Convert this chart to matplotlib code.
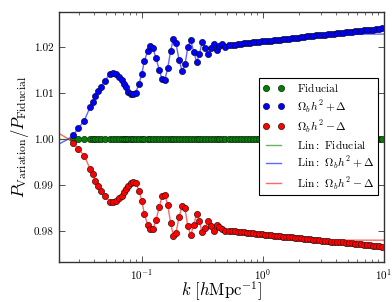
import numpy as np
import matplotlib
matplotlib.use("Agg")
import matplotlib.pyplot as plt
from matplotlib.ticker import FixedLocator, FormatStrFormatter, LogLocator

plt.rcParams['font.family'] = ['cmr10', 'DejaVu Serif']
plt.rcParams['mathtext.fontset'] = 'cm'
plt.rcParams['axes.formatter.use_mathtext'] = True

# k-Werte der Punkte (h/Mpc)
k = [0.0270, 0.0298, 0.0333, 0.0372, 0.0392, 0.0411, 0.0436, 0.0458, 0.0494, 0.0544,
     0.0580, 0.0610, 0.0642, 0.0679, 0.0710, 0.0738, 0.0771, 0.0811, 0.0847, 0.0887,
     0.0944, 0.0995, 0.1045, 0.1115, 0.1172, 0.1233, 0.1306, 0.1390, 0.1463, 0.1540,
     0.1630, 0.1725, 0.1815, 0.1910, 0.2023, 0.2143, 0.2266, 0.2387, 0.2524, 0.2673,
     0.2830, 0.2977, 0.3133, 0.3320, 0.3510, 0.3700, 0.3920, 0.4140, 0.4355, 0.4610,
     0.4880,
     0.52, 0.55, 0.583, 0.617, 0.654, 0.692, 0.733, 0.777, 0.822, 0.871,
     0.922, 0.977, 1.035, 1.096, 1.16, 1.23, 1.30, 1.38, 1.46, 1.55,
     1.64, 1.73, 1.84, 1.94, 2.06, 2.18, 2.31, 2.44, 2.59, 2.74,
     2.90, 3.07, 3.26, 3.45, 3.65, 3.87, 4.10, 4.34, 4.59, 4.86,
     5.15, 5.45, 5.78, 6.12, 6.48, 6.86, 7.26, 7.69, 8.15, 8.63,
     9.14, 9.68]

plus = [1.0009, 1.0023, 1.0040, 1.0069, 1.0081, 1.0094, 1.0104, 1.0114, 1.0127, 1.0141,
        1.0143, 1.0141, 1.0134, 1.0128, 1.0120, 1.0112, 1.0103, 1.0098, 1.0097, 1.0101,
        1.0120, 1.0141, 1.0169, 1.0192, 1.0202, 1.0197, 1.0175, 1.0150, 1.0130, 1.0128,
        1.0154, 1.0192, 1.0217, 1.0208, 1.0172, 1.0148, 1.0162, 1.0199, 1.0215, 1.0190,
        1.0167, 1.0184, 1.0210, 1.0198, 1.0184, 1.0197, 1.0206, 1.0193, 1.0202, 1.0207,
        1.0201,
        1.0204, 1.0205, 1.0205, 1.0206, 1.0207, 1.0208, 1.0208, 1.0209, 1.0210, 1.0210,
        1.0211, 1.0212, 1.0213, 1.0213, 1.0214, 1.0215, 1.0215, 1.0216, 1.0217, 1.0218,
        1.0218, 1.0219, 1.0220, 1.0220, 1.0221, 1.0222, 1.0223, 1.0223, 1.0224, 1.0225,
        1.0225, 1.0226, 1.0227, 1.0228, 1.0228, 1.0229, 1.0230, 1.0230, 1.0231, 1.0232,
        1.0233, 1.0233, 1.0234, 1.0235, 1.0235, 1.0236, 1.0237, 1.0238, 1.0238, 1.0239,
        1.0240, 1.0241]

minus = [0.9992, 0.9978, 0.9964, 0.9935, 0.9923, 0.9909, 0.9898, 0.9888, 0.9876, 0.9864,
         0.9862, 0.9866, 0.9871, 0.9877, 0.9885, 0.9892, 0.9898, 0.9905, 0.9906, 0.9904,
         0.9888, 0.9866, 0.9837, 0.9813, 0.9804, 0.9805, 0.9824, 0.9853, 0.9875, 0.9878,
         0.9857, 0.9817, 0.9790, 0.9796, 0.9830, 0.9855, 0.9849, 0.9811, 0.9791, 0.9813,
         0.9837, 0.9822, 0.9797, 0.9806, 0.9822, 0.9811, 0.9799, 0.9812, 0.9808, 0.9805,
         0.9801,
         0.9800, 0.9799, 0.9799, 0.9798, 0.9797, 0.9797, 0.9796, 0.9795, 0.9795, 0.9794,
         0.9793, 0.9793, 0.9792, 0.9791, 0.9791, 0.9790, 0.9789, 0.9789, 0.9788, 0.9787,
         0.9787, 0.9786, 0.9785, 0.9785, 0.9784, 0.9783, 0.9783, 0.9782, 0.9781, 0.9781,
         0.9780, 0.9779, 0.9779, 0.9778, 0.9777, 0.9777, 0.9776, 0.9775, 0.9775, 0.9774,
         0.9773, 0.9773, 0.9772, 0.9771, 0.9771, 0.9770, 0.9769, 0.9769, 0.9768, 0.9767,
         0.9767, 0.9766]

# lineare Theorie: Anfang und Ende weichen von den Punkten ab
lin_k_low = [0.0206, 0.0246]
lin_plus_low = [0.9989, 1.0000]
lin_minus_low = [1.0012, 1.0000]
lin_k_high = [3.0, 5.0, 7.0, 10.0]
lin_plus_high = [1.0225, 1.0227, 1.0228, 1.0228]
lin_minus_high = [0.9780, 0.9780, 0.9780, 0.9780]

k = np.array(k)
plus = np.array(plus)
minus = np.array(minus)
fid = np.ones_like(k)

mid = (k > lin_k_low[-1]) & (k < lin_k_high[0])
lin_k = np.concatenate([lin_k_low, k[mid], lin_k_high])
lin_plus = np.concatenate([lin_plus_low, plus[mid], lin_plus_high])
lin_minus = np.concatenate([lin_minus_low, minus[mid], lin_minus_high])

fig = plt.figure(figsize=(3.92, 3.02), dpi=100)
ax = fig.add_axes([0.1505, 0.1325, 0.8291, 0.8278])

mk = dict(marker='o', ls='none', ms=4.5, mec='k', mew=0.4)
ax.plot(k, fid, color='#008000', label=r'$\mathrm{Fiducial}$', **mk)
ax.plot(k, plus, color='#0000ff', label=r'$\Omega_b h^2+\Delta$', **mk)
ax.plot(k, minus, color='#ff0000', label=r'$\Omega_b h^2-\Delta$', **mk)
ax.plot([lin_k_low[0], 10.0], [1.0, 1.0], color='#008000', lw=1, alpha=0.6,
        label=r'$\mathrm{Lin{:}\ Fiducial}$')
ax.plot(lin_k, lin_plus, color='#0000ff', lw=1, alpha=0.6,
        label=r'$\mathrm{Lin{:}}\ \Omega_b h^2+\Delta$')
ax.plot(lin_k, lin_minus, color='#ff0000', lw=1, alpha=0.6,
        label=r'$\mathrm{Lin{:}}\ \Omega_b h^2-\Delta$')

ax.set_xscale('log')
ax.set_xlim(0.0206, 10)
ax.set_ylim(0.97326, 1.02761)
ax.yaxis.set_major_locator(FixedLocator([0.98, 0.99, 1.00, 1.01, 1.02]))
ax.yaxis.set_major_formatter(FormatStrFormatter('%.2f'))
ax.xaxis.set_major_locator(LogLocator(base=10))
ax.xaxis.set_minor_locator(LogLocator(base=10, subs=np.arange(2, 10)))

ax.tick_params(which='both', direction='in', top=True, right=True, labelsize=8,
               color='#333333')
ax.tick_params(which='major', length=4, width=0.6, pad=4)
ax.tick_params(which='minor', length=2, width=0.5)
for s in ax.spines.values():
    s.set_color('#333333')
    s.set_linewidth(1.0)

ax.set_xlabel(r'$k\ [h\mathrm{Mpc}^{-1}]$', fontsize=12, labelpad=-2)
ax.set_ylabel(r'$P_{\mathrm{Variation}}/P_{\mathrm{Fiducial}}$', fontsize=12, labelpad=2)

leg = ax.legend(loc='center right', bbox_to_anchor=(0.982, 0.502), numpoints=2,
                fontsize=8.3, fancybox=False, framealpha=1, edgecolor='k',
                handlelength=1.9, handletextpad=1.1, labelspacing=0.3,
                borderpad=0.3, borderaxespad=0)
leg.get_frame().set_linewidth(0.8)

fig.savefig('out.png', dpi=100)
